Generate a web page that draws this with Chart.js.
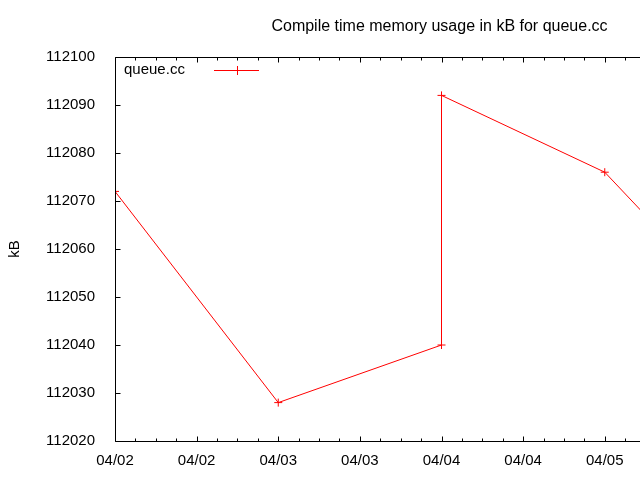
<!DOCTYPE html>
<html>
<head>
<meta charset="utf-8">
<script src="https://cdn.jsdelivr.net/npm/chart.js@4.4.0/dist/chart.umd.min.js"></script>
<style>
html,body{margin:0;padding:0;background:#fff;overflow:hidden;}
#wrap{width:640px;height:480px;overflow:hidden;position:relative;}
</style>
</head>
<body>
<div id="wrap"><canvas id="c" width="800" height="480"></canvas></div>
<script>
// hours since 04/02 00:00
const hours = [0, 24, 48, 48, 72, 96];
const memoryKB = [112072, 112028, 112040, 112092, 112076, 112040];
const xTickLabels = ["04/02","04/02","04/03","04/03","04/04","04/04","04/05","04/05","04/06"];
const yTicks = [112020,112030,112040,112050,112060,112070,112080,112090,112100];
const titleText = "Compile time memory usage in kB for queue.cc";
const seriesName = "queue.cc";
const FONT = "'Liberation Sans', Arial, sans-serif";

const points = hours.map((h,i)=>({x:h, y:memoryKB[i]}));

const framePlugin = {
  id:'frame',
  afterDraw(chart){
    const ctx = chart.ctx;
    const a = chart.chartArea;
    const xs = chart.scales.x, ys = chart.scales.y;
    ctx.save();
    ctx.strokeStyle = '#000';
    ctx.lineWidth = 1;
    const L = Math.round(a.left)+0.5, R = Math.round(a.right)+0.5, T = Math.round(a.top)+0.5, B = Math.round(a.bottom)+0.5;
    ctx.beginPath();
    ctx.moveTo(L,B); ctx.lineTo(L,T); ctx.lineTo(R,T); ctx.lineTo(R,B); ctx.lineTo(L,B);
    ctx.stroke();
    ctx.beginPath();
    for(let h=0; h<=96; h+=3){
      const px = Math.round(xs.getPixelForValue(h))+0.5;
      const len = (h%12===0)?5:3;
      ctx.moveTo(px,B); ctx.lineTo(px,B-len);
      ctx.moveTo(px,T); ctx.lineTo(px,T+len);
    }
    yTicks.forEach(v=>{
      const py = Math.round(ys.getPixelForValue(v))+0.5;
      ctx.moveTo(L,py); ctx.lineTo(L+5,py);
      ctx.moveTo(R,py); ctx.lineTo(R-5,py);
    });
    ctx.stroke();
    ctx.fillStyle = '#000';
    ctx.font = '16px ' + FONT;
    ctx.textAlign = 'center';
    ctx.textBaseline = 'middle';
    ctx.fillText(titleText, (a.left + a.right)/2 - 2, 27);
    ctx.font = '15px ' + FONT;
    ctx.textAlign = 'left';
    ctx.fillText(seriesName, 124, 70);
    ctx.strokeStyle = '#ff0000';
    ctx.beginPath();
    ctx.moveTo(214,70.5); ctx.lineTo(259,70.5);
    ctx.moveTo(237.5,66); ctx.lineTo(237.5,75);
    ctx.stroke();
    ctx.restore();
  }
};

new Chart(document.getElementById('c'), {
  type:'line',
  data:{
    datasets:[{
      label: seriesName,
      data: points,
      borderColor:'#ff0000',
      backgroundColor:'#ff0000',
      borderWidth:1,
      pointStyle:'cross',
      pointRadius:4,
      pointBorderWidth:1,
      pointBorderColor:'#ff0000',
      tension:0,
      fill:false
    }]
  },
  options:{
    responsive:false,
    animation:false,
    devicePixelRatio:1,
    layout:{padding:{left:6, right:32, top:57, bottom:0}},
    plugins:{legend:{display:false}, title:{display:false}, tooltip:{enabled:false}},
    scales:{
      x:{
        type:'linear', min:0, max:96,
        grid:{display:false}, border:{display:false},
        afterBuildTicks(s){ s.ticks = xTickLabels.map((_,i)=>({value:i*12})); },
        afterFit(s){ s.height = 39; },
        ticks:{
          autoSkip:false, maxRotation:0, padding:3,
          color:'#000', font:{family:FONT, size:15},
          callback(v){ return xTickLabels[Math.round(v/12)]; }
        }
      },
      y:{
        type:'linear', min:112020, max:112100,
        grid:{display:false}, border:{display:false},
        afterBuildTicks(s){ s.ticks = yTicks.map(v=>({value:v})); },
        afterFit(s){ s.width = 109; },
        title:{display:true, text:'kB', color:'#000', font:{family:FONT, size:15}, padding:{top:0,bottom:0}},
        ticks:{
          padding:12, color:'#000', font:{family:FONT, size:15},
          callback(v){ return String(v); }
        }
      }
    }
  },
  plugins:[framePlugin]
});
</script>
</body>
</html>
